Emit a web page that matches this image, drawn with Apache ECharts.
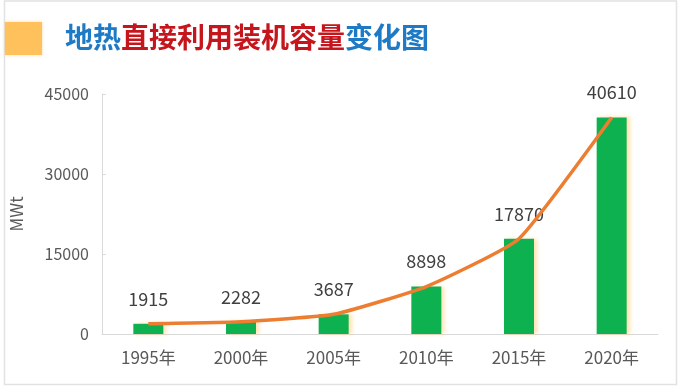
<!DOCTYPE html>
<html>
<head>
<meta charset="utf-8">
<script src="https://cdn.jsdelivr.net/npm/echarts@6/dist/echarts.min.js"></script>
<style>html,body{margin:0;padding:0;background:#fff;}#c{width:678px;height:386px;}</style>
</head>
<body>
<div id="c"></div>
<script>
var categories = ['1995年', '2000年', '2005年', '2010年', '2015年', '2020年'];
var capacity = [1915, 2282, 3687, 8898, 17870, 40610];
var yTicks = [0, 15000, 30000, 45000];

var FONT = '"Noto Sans CJK SC", "Microsoft YaHei", sans-serif';
var chart = echarts.init(document.getElementById('c'));
chart.setOption({
  backgroundColor: '#fff',
  animation: false,
  textStyle: { fontFamily: FONT },
  title: {
    text: '{b|地热}{r|直接利用装机容量}{b|变化图}',
    left: 60, top: 18,
    textStyle: {
      rich: {
        b: { color: '#1f7ac6', fontSize: 28, fontWeight: 'bold', fontFamily: FONT },
        r: { color: '#c5161d', fontSize: 28, fontWeight: 'bold', fontFamily: FONT }
      }
    }
  },
  graphic: [
    { type: 'rect', shape: { x: 4.5, y: 1, width: 672, height: 383.5 }, style: { fill: 'none', stroke: '#e2e2e2', lineWidth: 1.5 }, z: -1 },
    { type: 'rect', shape: { x: 5, y: 22, width: 37, height: 33 }, style: { fill: '#ffc15c', shadowColor: 'rgba(255,193,92,0.6)', shadowBlur: 3 } }
  ],
  grid: { left: 97, right: 20, top: 94, bottom: 52 },
  xAxis: {
    type: 'category',
    data: categories,
    axisLine: { lineStyle: { color: '#d9d9d9', width: 1 } },
    axisTick: { show: false },
    axisLabel: { color: '#595959', fontSize: 17, margin: 15, fontFamily: FONT }
  },
  yAxis: {
    type: 'value',
    min: yTicks[0], max: yTicks[yTicks.length - 1], interval: 15000,
    name: 'MWt',
    nameLocation: 'middle',
    nameRotate: 90,
    nameGap: 77,
    nameTextStyle: { color: '#595959', fontSize: 17, fontFamily: FONT },
    axisLine: { show: true, lineStyle: { color: '#d9d9d9', width: 1 } },
    axisTick: { show: true, inside: true, length: 4, lineStyle: { color: '#d9d9d9' } },
    splitLine: { show: false },
    axisLabel: { color: '#595959', fontSize: 16, margin: 13, fontFamily: FONT, formatter: function (v) { return String(v); } }
  },
  series: [
    {
      type: 'bar',
      data: capacity,
      barWidth: 30,
      itemStyle: {
        color: '#0db14f',
        shadowColor: 'rgba(255,190,80,0.45)',
        shadowOffsetX: 3,
        shadowBlur: 4
      },
      label: { show: true, position: 'top', distance: 16, color: '#404040', fontSize: 18, fontFamily: FONT },
      z: 2
    },
    {
      type: 'line',
      data: capacity,
      smooth: 0.15,
      symbol: 'none',
      lineStyle: { color: '#ed7d31', width: 3.5 },
      z: 3
    }
  ]
});
</script>
</body>
</html>
